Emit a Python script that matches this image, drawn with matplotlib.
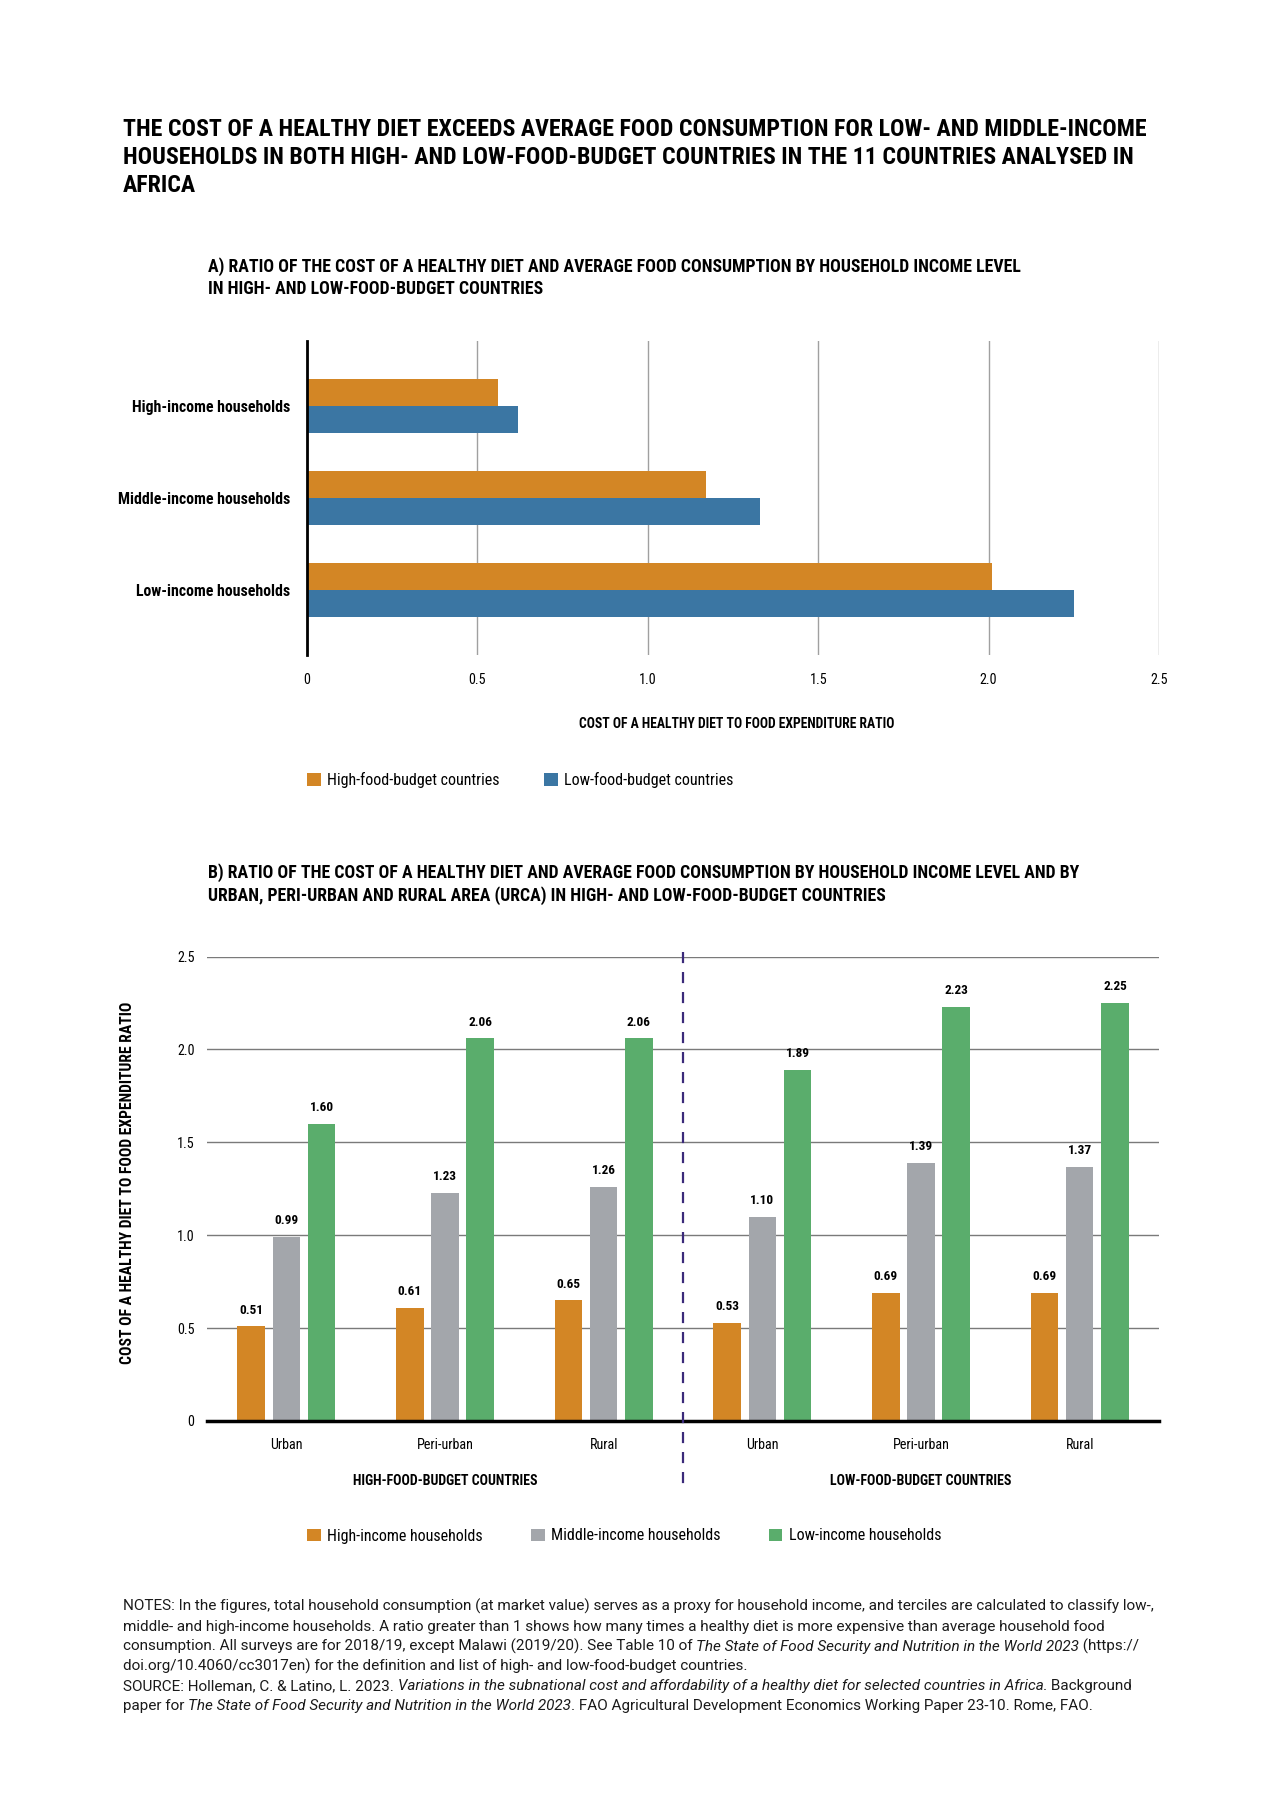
import matplotlib
matplotlib.use('Agg')
import matplotlib.pyplot as plt
from matplotlib import font_manager as fm
import matplotlib.transforms as mtransforms

# ---------------- data ----------------
incomeA = ['High-income households', 'Middle-income households', 'Low-income households']
highBudgetA = [0.56, 1.17, 2.01]
lowBudgetA = [0.62, 1.33, 2.25]
xticksA = [0, 0.5, 1.0, 1.5, 2.0, 2.5]
xtickLabelsA = ['0', '0.5', '1.0', '1.5', '2.0', '2.5']

areasB = ['Urban', 'Peri-urban', 'Rural', 'Urban', 'Peri-urban', 'Rural']
groupsB = ['HIGH-FOOD-BUDGET COUNTRIES', 'LOW-FOOD-BUDGET COUNTRIES']
highIncB = [0.51, 0.61, 0.65, 0.53, 0.69, 0.69]
midIncB = [0.99, 1.23, 1.26, 1.10, 1.39, 1.37]
lowIncB = [1.60, 2.06, 2.06, 1.89, 2.23, 2.25]
yticksB = [0, 0.5, 1.0, 1.5, 2.0, 2.5]
ytickLabelsB = ['0', '0.5', '1.0', '1.5', '2.0', '2.5']

ORANGE = '#D38625'
BLUE = '#3B76A3'
GREY = '#A3A6AB'
GREEN = '#5AAD6C'

def wnum(w):
    if isinstance(w, int):
        return w
    try:
        return int(w)
    except Exception:
        return fm.weight_dict.get(str(w), 400)

faces = {}
for f in fm.fontManager.ttflist:
    faces.setdefault(f.name, set()).add((wnum(f.weight), f.style))

def pick(cands, need_bold=True, need_italic=False):
    for c in cands:
        if c not in faces:
            continue
        ws = faces[c]
        if need_bold and not any(w >= 600 and s == 'normal' for w, s in ws):
            continue
        if not any(w <= 500 and s == 'normal' for w, s in ws):
            continue
        if need_italic and not any(s == 'italic' for w, s in ws):
            continue
        return c
    return 'DejaVu Sans'

COND = pick(['Roboto Condensed', 'PT Sans Narrow', 'Fira Sans Extra Condensed', 'Fira Sans Condensed',
             'Barlow Condensed', 'Asap Condensed', 'IBM Plex Sans Condensed'])
BODY = pick(['Roboto', 'Liberation Sans', 'Open Sans'], need_bold=False, need_italic=True)
FAM = [COND, 'DejaVu Sans']
BFAM = [BODY, 'DejaVu Sans']
plt.rcParams['font.family'] = FAM

W, H = 1280, 1811
fig = plt.figure(figsize=(12.8, 18.11), dpi=100)
renderer = fig.canvas.get_renderer()
def fx(px): return px / W
def fy(py): return 1 - py / H

def fit(s, target, **kw):
    t = fig.text(0, 0, s, fontsize=10, **kw)
    w = t.get_window_extent(renderer).width
    t.remove()
    return 10 * target / w

ov = fig.add_axes([0, 0, 1, 1], zorder=-5)
ov.set_xlim(0, 1); ov.set_ylim(0, 1); ov.axis('off')

def ctext(x, y, s, size, weight='normal', **kw):
    return fig.text(fx(x), fy(y), s, fontsize=size, fontweight=weight, family=FAM, **kw)

# ---------------- title ----------------
title_lines = ['THE COST OF A HEALTHY DIET EXCEEDS AVERAGE FOOD CONSUMPTION FOR LOW- AND MIDDLE-INCOME',
               'HOUSEHOLDS IN BOTH HIGH- AND LOW-FOOD-BUDGET COUNTRIES IN THE 11 COUNTRIES ANALYSED IN',
               'AFRICA']
sz_title = fit(title_lines[0], 1018, fontweight='bold', family=FAM)
for i, l in enumerate(title_lines):
    ctext(123, 136 + 28 * i, l, sz_title, 'bold', va='baseline', ha='left')

subA = ['A) RATIO OF THE COST OF A HEALTHY DIET AND AVERAGE FOOD CONSUMPTION BY HOUSEHOLD INCOME LEVEL',
        'IN HIGH- AND LOW-FOOD-BUDGET COUNTRIES']
sz_sub = fit(subA[0], 808, fontweight='bold', family=FAM)
for i, l in enumerate(subA):
    ctext(208, 272 + 22.5 * i, l, sz_sub, 'bold', va='baseline', ha='left')

subB = ['B) RATIO OF THE COST OF A HEALTHY DIET AND AVERAGE FOOD CONSUMPTION BY HOUSEHOLD INCOME LEVEL AND BY',
        'URBAN, PERI-URBAN AND RURAL AREA (URCA) IN HIGH- AND LOW-FOOD-BUDGET COUNTRIES']
for i, l in enumerate(subB):
    ctext(208, 878 + 22.5 * i, l, sz_sub, 'bold', va='baseline', ha='left')

axlab = 'COST OF A HEALTHY DIET TO FOOD EXPENDITURE RATIO'
sz_ylabB = fit(axlab, 361, fontweight='bold', family=FAM)
sz_xlabA = fit(axlab, 314, fontweight='bold', family=FAM)
sz_cat = fit('High-income households', 158, fontweight='bold', family=FAM)
sz_tick = fit('Peri-urban', 57, family=FAM)
sz_leg = fit('High-income households', 156, family=FAM)
sz_val = fit('0.51', 24, fontweight='bold', family=FAM)
sz_grp = fit('HIGH-FOOD-BUDGET COUNTRIES', 184, fontweight='bold', family=FAM)

# ---------------- panel A ----------------
axA = fig.add_axes([fx(307), fy(655), fx(1159) - fx(307), (655 - 341) / H])
yA = [2, 1, 0]
h = 0.295
axA.barh([y + h / 2 for y in yA], highBudgetA, height=h, color=ORANGE, zorder=3,
         label='High-food-budget countries')
axA.barh([y - h / 2 for y in yA], lowBudgetA, height=h, color=BLUE, zorder=3,
         label='Low-food-budget countries')
axA.set_xlim(0, 2.5)
axA.set_ylim(-0.71, 2.71)
axA.set_xticks(xticksA)
axA.set_xticklabels(xtickLabelsA)
axA.set_yticks(yA)
axA.set_yticklabels(incomeA, fontweight='bold')
axA.tick_params(length=0, labelsize=sz_tick)
axA.tick_params(axis='x', pad=13)
axA.tick_params(axis='y', pad=12, labelsize=sz_cat)
for s in ['top', 'right', 'bottom']:
    axA.spines[s].set_visible(False)
axA.spines['left'].set_linewidth(2)
axA.spines['left'].set_color('black')
axA.spines['left'].set_zorder(5)
axA.xaxis.grid(True, color='#A0A0A0', linewidth=1)
axA.set_axisbelow(True)
ctext(737, 728, axlab, sz_xlabA, 'bold', va='baseline', ha='center')

hA, lA = axA.get_legend_handles_labels()
fig.legend(hA, lA, loc='center left', bbox_to_anchor=(fx(293), fy(780)), ncol=2, frameon=False,
           handlelength=0.85, handleheight=0.85, handletextpad=0.4, columnspacing=2.75,
           prop={'family': FAM, 'size': sz_leg})

# ---------------- panel B ----------------
axB = fig.add_axes([fx(207), fy(1421), fx(1159) - fx(207), (1421 - 956.6) / H])
xs = list(range(len(areasB)))
bw = 0.173
off = 0.222
b1 = axB.bar([x - off for x in xs], highIncB, width=bw, color=ORANGE, zorder=3, label='High-income households')
b2 = axB.bar(xs, midIncB, width=bw, color=GREY, zorder=3, label='Middle-income households')
b3 = axB.bar([x + off for x in xs], lowIncB, width=bw, color=GREEN, zorder=3, label='Low-income households')
for bars, vals in [(b1, highIncB), (b2, midIncB), (b3, lowIncB)]:
    for r, v in zip(bars, vals):
        axB.annotate(f'{v:.2f}', (r.get_x() + r.get_width() / 2, v), xytext=(0, 7), textcoords='offset points',
                     ha='center', va='bottom', fontsize=sz_val, fontweight='bold', family=FAM)
axB.set_xlim(-0.5, 5.5)
axB.set_ylim(0, 2.5)
axB.set_yticks(yticksB)
axB.set_yticklabels(ytickLabelsB)
axB.set_xticks(xs)
axB.set_xticklabels(areasB)
axB.tick_params(length=0, labelsize=sz_tick)
axB.tick_params(axis='x', pad=12)
axB.tick_params(axis='y', pad=9)
for s in ['top', 'right', 'left']:
    axB.spines[s].set_visible(False)
axB.spines['bottom'].set_linewidth(2.5)
axB.spines['bottom'].set_color('black')
axB.spines['bottom'].set_zorder(5)
axB.yaxis.grid(True, color='#7A7A7A', linewidth=1)
axB.set_axisbelow(True)
tr = mtransforms.blended_transform_factory(axB.transData, fig.transFigure)
for gx, g in zip([1, 4], groupsB):
    axB.text(gx, fy(1485), g, transform=tr, ha='center', va='baseline', fontsize=sz_grp,
             fontweight='bold', family=FAM)
axB.plot([2.5, 2.5], [fy(952), fy(1487)], transform=tr, color='#3B2A7A', linestyle=(0, (5, 4)),
         linewidth=1.6, clip_on=False, zorder=6)
ctext(128, 1183, axlab, sz_ylabB, 'bold', va='center', ha='center', rotation=90)

hB, lB = axB.get_legend_handles_labels()
fig.legend(hB, lB, loc='center left', bbox_to_anchor=(fx(293), fy(1536)), ncol=3, frameon=False,
           handlelength=0.85, handleheight=0.85, handletextpad=0.4, columnspacing=3.0,
           prop={'family': FAM, 'size': sz_leg})

# ---------------- notes ----------------
notes = [
    [('NOTES: In the figures, total household consumption (at market value) serves as a proxy for household income, and terciles are calculated to classify low-,', 'normal')],
    [('middle- and high-income households. A ratio greater than 1 shows how many times a healthy diet is more expensive than average household food', 'normal')],
    [('consumption. All surveys are for 2018/19, except Malawi (2019/20). See Table 10 of ', 'normal'),
     ('The State of Food Security and Nutrition in the World 2023', 'italic'), (' (https://', 'normal')],
    [('doi.org/10.4060/cc3017en) for the definition and list of high- and low-food-budget countries.', 'normal')],
    [('SOURCE: Holleman, C. & Latino, L. 2023. ', 'normal'),
     ('Variations in the subnational cost and affordability of a healthy diet for selected countries in Africa', 'italic'),
     ('. Background', 'normal')],
    [('paper for ', 'normal'), ('The State of Food Security and Nutrition in the World 2023', 'italic'),
     ('. FAO Agricultural Development Economics Working Paper 23-10. Rome, FAO.', 'normal')],
]
sz_notes = fit(notes[0][0][0], 1037, family=BFAM)
for i, segs in enumerate(notes):
    y = fy(1611 + 19.8 * i)
    prev = None
    for txt, st in segs:
        kw = dict(fontsize=sz_notes, fontstyle=st, family=BFAM, color='#1a1a1a')
        if prev is None:
            prev = ov.text(fx(123), y, txt, ha='left', va='baseline', **kw)
        else:
            prev = ov.annotate(txt, xy=(1, 0), xycoords=prev, ha='left', va='bottom', **kw)

fig.savefig('out.png', dpi=100, facecolor='white')
